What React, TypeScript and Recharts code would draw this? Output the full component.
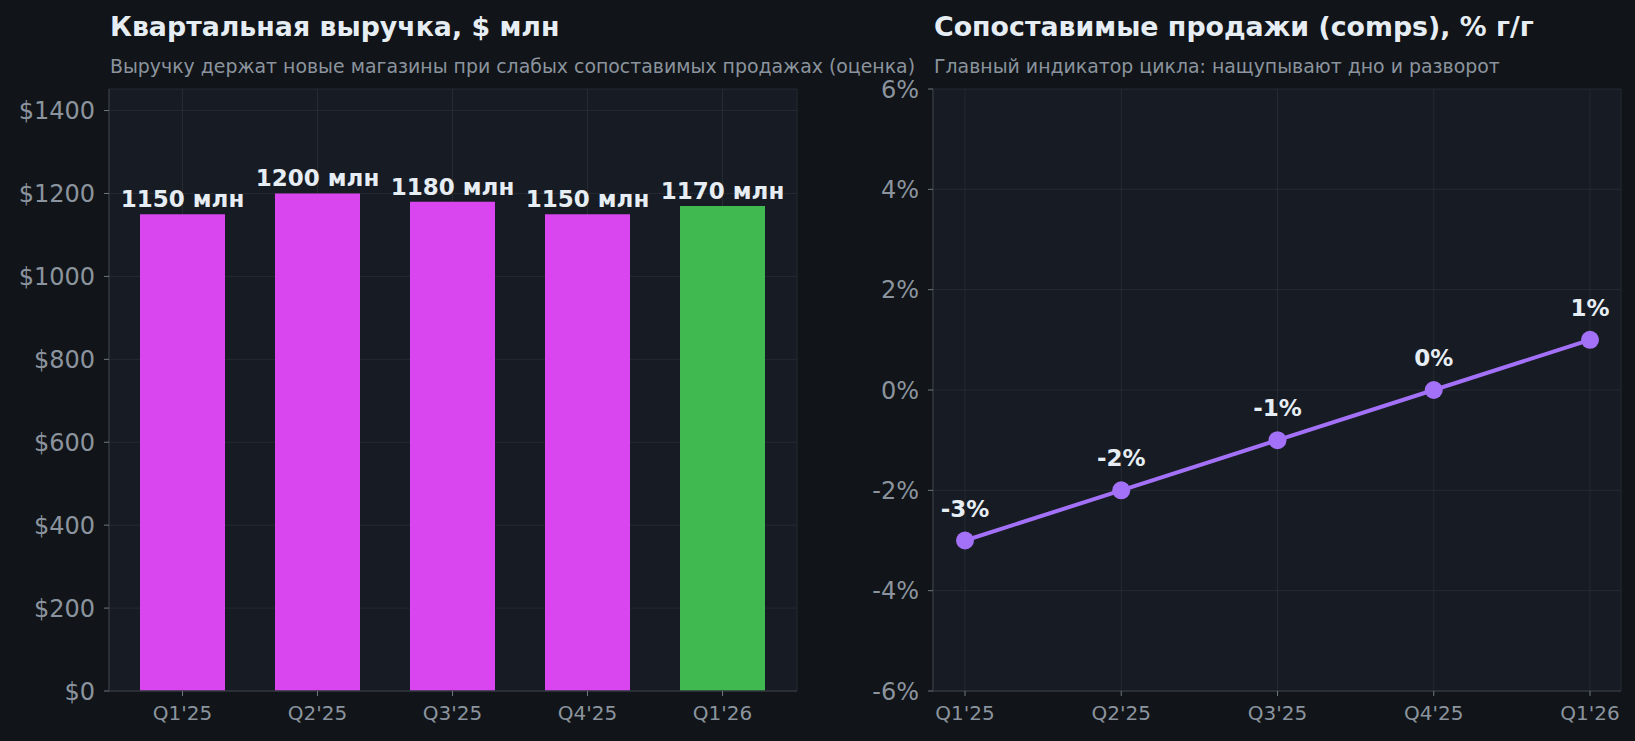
import React from "react";
import {
  BarChart,
  Bar,
  Cell,
  LineChart,
  Line,
  XAxis,
  YAxis,
  CartesianGrid,
  LabelList,
} from "recharts";

const QUARTERS = ["Q1'25", "Q2'25", "Q3'25", "Q4'25", "Q1'26"];
const REVENUE = [1150, 1200, 1180, 1150, 1170];
const COMPS = [-3, -2, -1, 0, 1];
const REVENUE_TICKS = [0, 200, 400, 600, 800, 1000, 1200, 1400];
const COMPS_TICKS = [-6, -4, -2, 0, 2, 4, 6];
const BAR_COLORS = ["#d946ef", "#d946ef", "#d946ef", "#d946ef", "#3fb950"];

const FONT = "'DejaVu Sans', sans-serif";
const PAGE_BG = "#111418";
const PLOT_BG = "#171b23";
const GRID = "#252a33";
const AXIS = "#30363d";
const TICK = "#8b949e";
const TEXT = "#e6edf3";
const LINE = "#a371f7";

const revenueData = QUARTERS.map((q, i) => ({ q, value: REVENUE[i] }));
const compsData = QUARTERS.map((q, i) => ({ q, value: COMPS[i] }));

function Title({ left, title, subtitle }: { left: number; title: string; subtitle: string }) {
  return (
    <>
      <div
        style={{
          position: "absolute",
          left,
          top: 13,
          fontSize: 26.8,
          lineHeight: "27px",
          fontWeight: "bold",
          color: TEXT,
          whiteSpace: "nowrap",
        }}
      >
        {title}
      </div>
      <div
        style={{
          position: "absolute",
          left,
          top: 57,
          fontSize: 18.9,
          lineHeight: "19px",
          color: TICK,
          whiteSpace: "nowrap",
        }}
      >
        {subtitle}
      </div>
    </>
  );
}

// подпись над столбцом без переноса строки
function BarValueLabel(props: any) {
  const { x, y, width, value } = props;
  return (
    <text
      x={Number(x) + Number(width) / 2}
      y={Number(y) - 7}
      textAnchor="middle"
      fill={TEXT}
      fontSize={23}
      fontWeight="bold"
      fontFamily={FONT}
    >
      {`${value} млн`}
    </text>
  );
}

export default function App() {
  return (
    <div
      style={{
        position: "absolute",
        left: 0,
        top: 0,
        width: 1635,
        height: 741,
        background: PAGE_BG,
        fontFamily: FONT,
        overflow: "hidden",
      }}
    >
      {/* левая панель: выручка */}
      <div style={{ position: "absolute", left: 0, top: 0 }}>
        <BarChart
          width={820}
          height={741}
          data={revenueData}
          margin={{ top: 89, right: 23, bottom: 20, left: 39 }}
        >
          <CartesianGrid stroke={GRID} fill={PLOT_BG} fillOpacity={1} />
          <XAxis
            dataKey="q"
            height={30}
            padding={{ left: 6, right: 7 }}
            tick={{ fill: TICK, fontSize: 20, fontFamily: FONT }}
            tickSize={5}
            tickMargin={10}
            axisLine={{ stroke: AXIS, strokeWidth: 1.5 }}
            tickLine={{ stroke: "#6e7681" }}
          />
          <YAxis
            width={70}
            domain={[0, 1452]}
            ticks={REVENUE_TICKS}
            tickFormatter={(v: number) => `$${v}`}
            tick={{ fill: TICK, fontSize: 24, fontFamily: FONT }}
            tickSize={5}
            tickMargin={9}
            axisLine={{ stroke: AXIS, strokeWidth: 1.5 }}
            tickLine={{ stroke: "#6e7681" }}
          />
          <Bar dataKey="value" barSize={85} isAnimationActive={false}>
            {revenueData.map((d, i) => (
              <Cell key={d.q} fill={BAR_COLORS[i]} />
            ))}
            <LabelList dataKey="value" content={BarValueLabel} />
          </Bar>
        </BarChart>
      </div>

      {/* правая панель: comps */}
      <div style={{ position: "absolute", left: 820, top: 0 }}>
        <LineChart
          width={815}
          height={741}
          data={compsData}
          margin={{ top: 89, right: 14, bottom: 20, left: 43 }}
        >
          <CartesianGrid stroke={GRID} fill={PLOT_BG} fillOpacity={1} />
          <XAxis
            dataKey="q"
            height={30}
            padding={{ left: 32, right: 31 }}
            tick={{ fill: TICK, fontSize: 20, fontFamily: FONT }}
            tickSize={5}
            tickMargin={10}
            axisLine={{ stroke: AXIS, strokeWidth: 1.5 }}
            tickLine={{ stroke: "#6e7681" }}
          />
          <YAxis
            width={70}
            domain={[-6, 6]}
            ticks={COMPS_TICKS}
            tickFormatter={(v: number) => `${v}%`}
            tick={{ fill: TICK, fontSize: 24, fontFamily: FONT }}
            tickSize={5}
            tickMargin={9}
            axisLine={{ stroke: AXIS, strokeWidth: 1.5 }}
            tickLine={{ stroke: "#6e7681" }}
          />
          <Line
            dataKey="value"
            stroke={LINE}
            strokeWidth={4}
            dot={{ r: 9, fill: LINE, stroke: "none" }}
            isAnimationActive={false}
          >
            <LabelList
              dataKey="value"
              position="top"
              offset={24}
              formatter={(v: number) => `${v}%`}
              style={{ fill: TEXT, fontSize: 23, fontWeight: "bold", fontFamily: FONT }}
            />
          </Line>
        </LineChart>
      </div>

      <Title
        left={110}
        title="Квартальная выручка, $ млн"
        subtitle="Выручку держат новые магазины при слабых сопоставимых продажах (оценка)"
      />
      <Title
        left={934}
        title="Сопоставимые продажи (comps), % г/г"
        subtitle="Главный индикатор цикла: нащупывают дно и разворот"
      />
    </div>
  );
}
